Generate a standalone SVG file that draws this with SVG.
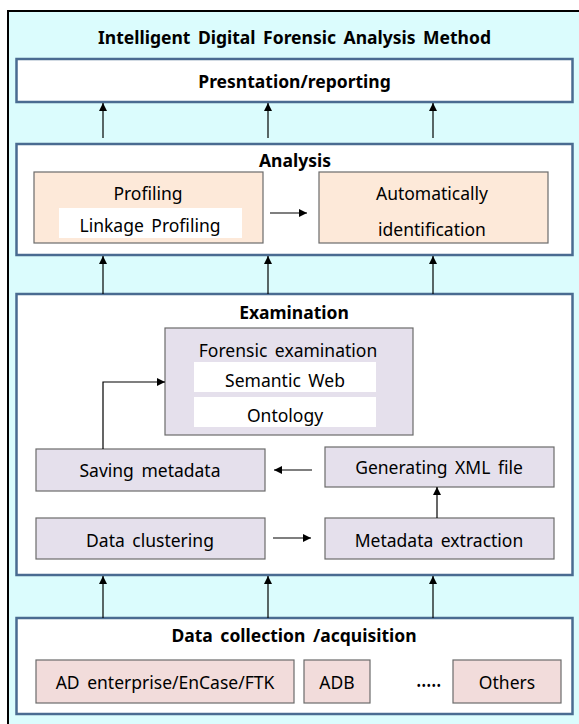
<svg xmlns="http://www.w3.org/2000/svg" width="579" height="724" viewBox="0 0 579 724">
<defs>
<marker id="ah" viewBox="0 0 10 10" refX="10" refY="5" markerWidth="8" markerHeight="8" markerUnits="userSpaceOnUse" orient="auto">
<path d="M0,0 L10,5 L0,10 z" fill="#000"/>
</marker>
<style>
.big{fill:#fff;stroke:#4A6B91;stroke-width:2.5}
.peach{fill:#FDE9D9;stroke:#6B6B6B;stroke-width:1.2}
.lav{fill:#E5E0EC;stroke:#6B6B6B;stroke-width:1.2}
.pink{fill:#F2DCDB;stroke:#6B6B6B;stroke-width:1.2}
.wb{fill:#fff}
text{font-family:"Noto Sans","Liberation Sans",sans-serif;fill:#000;text-anchor:middle;dominant-baseline:central;word-spacing:3px}
.h{font-weight:bold;font-size:17.5px}
.t{font-size:17.5px}
.dots{font-size:12px;word-spacing:0;letter-spacing:0.5px}
.c{stroke:#000;stroke-width:1.2;fill:none;marker-end:url(#ah)}
</style>
</defs>
<rect x="8" y="11" width="600" height="800" fill="#DBFCFD" stroke="#000" stroke-width="2"/>
<text class="h" x="294.5" y="37">Intelligent Digital Forensic Analysis Method</text>

<g id="presentation">
<rect class="big" x="16.5" y="59" width="556" height="43"/>
<text class="h" x="294.5" y="81">Presntation/reporting</text>
</g>

<g id="analysis">
<rect class="big" x="16.5" y="144" width="556" height="111"/>
<text class="h" x="295" y="160">Analysis</text>
</g>
<g id="profiling">
<rect class="peach" x="34" y="172" width="229" height="71"/>
<text class="t" x="148" y="193">Profiling</text>
<rect class="wb" x="59" y="208" width="183" height="30"/>
<text class="t" x="150" y="225">Linkage Profiling</text>
</g>
<g id="auto-id">
<rect class="peach" x="319" y="172" width="229" height="71"/>
<text class="t" x="432" y="193">Automatically</text>
<text class="t" x="432" y="229">identification</text>
</g>

<g id="examination">
<rect class="big" x="16.5" y="294" width="556" height="281"/>
<text class="h" x="294" y="312">Examination</text>
</g>
<g id="forensic-exam">
<rect class="lav" x="165" y="328" width="248" height="107"/>
<text class="t" x="288" y="350">Forensic examination</text>
<rect class="wb" x="194" y="362" width="182" height="30"/>
<text class="t" x="285" y="380">Semantic Web</text>
<rect class="wb" x="194" y="397" width="182" height="30"/>
<text class="t" x="285" y="415">Ontology</text>
</g>
<g id="saving">
<rect class="lav" x="36" y="449" width="229" height="42"/>
<text class="t" x="150" y="470">Saving metadata</text>
</g>
<g id="xml">
<rect class="lav" x="325" y="447" width="229" height="40"/>
<text class="t" x="439" y="467">Generating XML file</text>
</g>
<g id="clustering">
<rect class="lav" x="36" y="518" width="229" height="41"/>
<text class="t" x="150" y="540">Data clustering</text>
</g>
<g id="extraction">
<rect class="lav" x="325" y="518" width="229" height="41"/>
<text class="t" x="439" y="540">Metadata extraction</text>
</g>

<g id="collection">
<rect class="big" x="16.5" y="618" width="556" height="96"/>
<text class="h" x="294" y="635">Data collection /acquisition</text>
</g>
<g id="ad">
<rect class="pink" x="36" y="660" width="258" height="43"/>
<text class="t" x="165" y="682">AD enterprise/EnCase/FTK</text>
</g>
<g id="adb">
<rect class="pink" x="304" y="660" width="66" height="43"/>
<text class="t" x="337" y="682">ADB</text>
</g>
<text class="dots" x="429" y="685">•••••</text>
<g id="others">
<rect class="pink" x="453" y="660" width="108" height="43"/>
<text class="t" x="507" y="682">Others</text>
</g>

<g id="connectors">
<path class="c" d="M103,138 V103"/>
<path class="c" d="M268,138 V103"/>
<path class="c" d="M433,138 V103"/>
<path class="c" d="M103,294 V256"/>
<path class="c" d="M268,294 V256"/>
<path class="c" d="M433,294 V256"/>
<path class="c" d="M103,618 V576"/>
<path class="c" d="M268,618 V576"/>
<path class="c" d="M433,618 V576"/>
<path class="c" d="M270,213 H307"/>
<path class="c" d="M103,449 V382 H165"/>
<path class="c" d="M312,470 H274"/>
<path class="c" d="M437,518 V487"/>
<path class="c" d="M273,538 H311"/>
</g>
</svg>
